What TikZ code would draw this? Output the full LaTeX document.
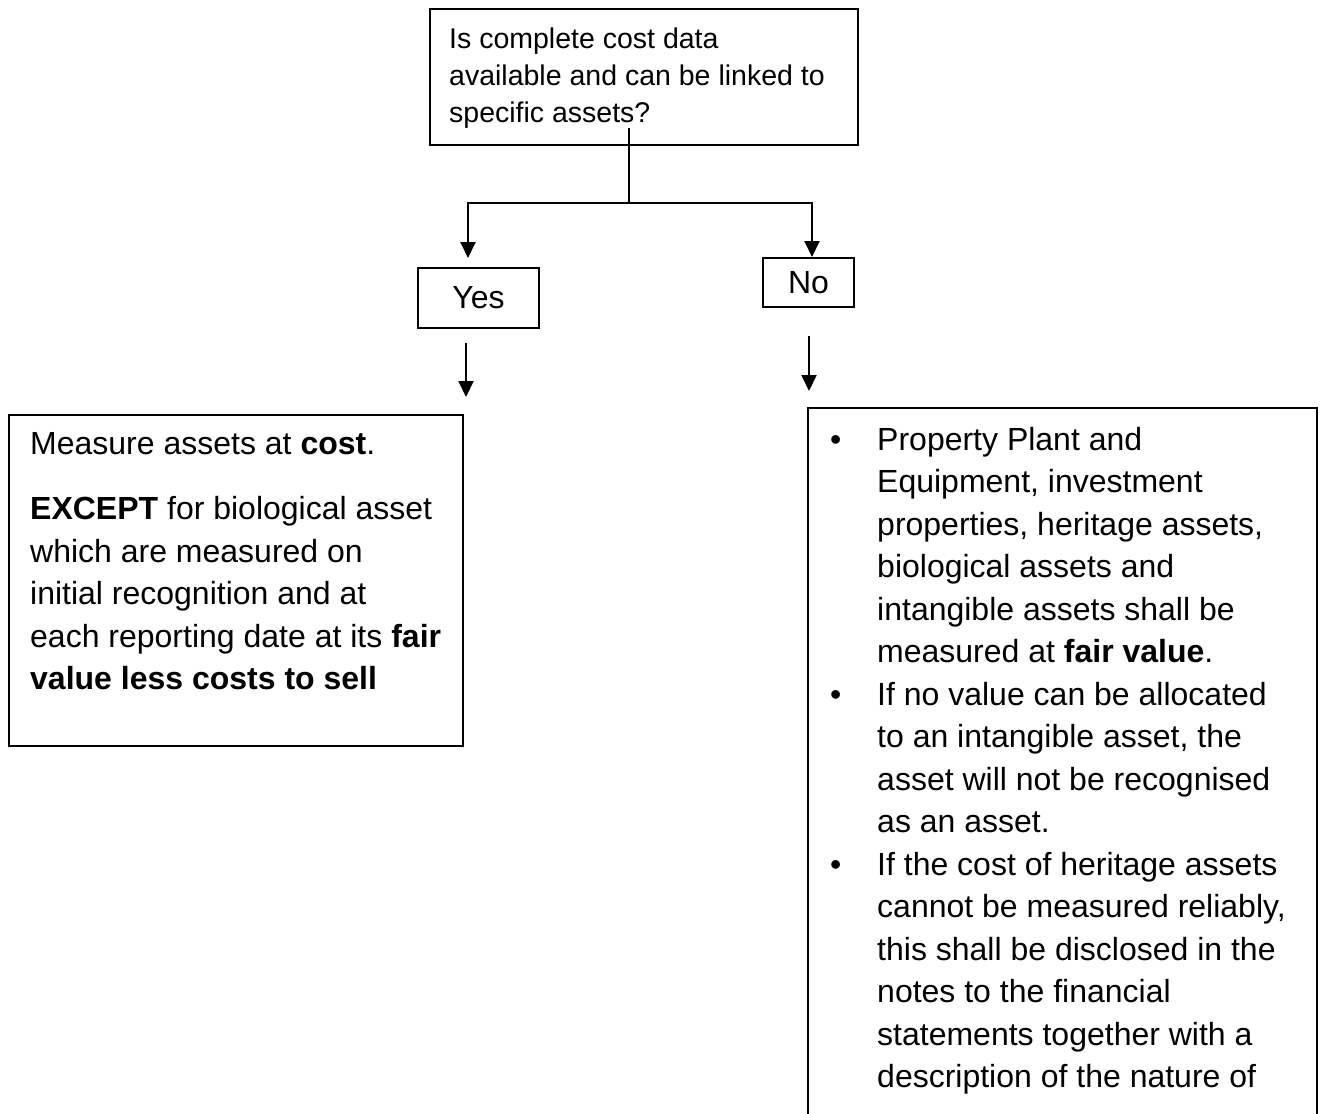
\documentclass[tikz,border=0pt]{standalone}
\usepackage{fontspec}
\setmainfont{Liberation Sans}
\usetikzlibrary{arrows.meta}
\begin{document}
\begin{tikzpicture}[x=1pt,y=-1pt,
  box/.style={draw,line width=2pt,inner sep=0pt,anchor=north west},
  txt/.style={inner sep=0pt,anchor=north west,align=left,font=\fontsize{32}{42.5}\selectfont},
  conn/.style={line width=2pt},
  arr/.style={line width=2pt,-{Triangle[width=15pt,length=16pt]}},
  lbl/.style={draw,line width=2pt,inner sep=0pt,font=\fontsize{32}{38}\selectfont}]
\useasboundingbox (0,0) rectangle (1324,1113);
\clip (0,0) rectangle (1324,1113);
% question box
\node[box,minimum width=428pt,minimum height=136pt] (q) at (429,8) {};
\node[txt,font=\fontsize{28.5}{37}\selectfont] (qt) at (449,27.6)
  {Is complete cost data\\available and can be linked to\\specific assets?};
% yes / no
\node[lbl,minimum width=121pt,minimum height=60pt] (yes) at (478.5,298) {Yes};
\node[lbl,minimum width=91pt,minimum height=49pt] (no) at (808.5,282.5) {No};
% connectors
\coordinate (qs) at (629,128);
\coordinate (split) at (629,203);
\coordinate (yl) at (468,203);
\coordinate (yt) at (468,258);
\coordinate (nr) at (812,203);
\draw[conn] (qs) -- (split);
\draw[arr] (split) -- (yl) -- (yt);
\draw[arr] (split) -- (nr) -- (nr |- no.north);
\coordinate (ya) at (466,343);
\coordinate (yb) at (466,397);
\coordinate (na) at (809,336);
\coordinate (nb) at (809,391);
\draw[arr] (ya) -- (yb);
\draw[arr] (na) -- (nb);
% cost box
\node[box,minimum width=454pt,minimum height=331pt] (cost) at (8,414) {};
\node[txt] (costt) at (30,432)
  {Measure assets at \textbf{cost}.\\[23pt]
   \textbf{EXCEPT} for biological asset\\
   which are measured on\\
   initial recognition and at\\
   each reporting date at its \textbf{fair}\\
   \textbf{value less costs to sell}};
% fair value box
\node[box,minimum width=509pt,minimum height=743pt] (fv) at (807,407) {};
\node[txt] (fvt) at (877,427)
  {\llap{\textbullet\hspace{36pt}}Property Plant and\\
   Equipment, investment\\
   properties, heritage assets,\\
   biological assets and\\
   intangible assets shall be\\
   measured at \textbf{fair value}.\\
   \llap{\textbullet\hspace{36pt}}If no value can be allocated\\
   to an intangible asset, the\\
   asset will not be recognised\\
   as an asset.\\
   \llap{\textbullet\hspace{36pt}}If the cost of heritage assets\\
   cannot be measured reliably,\\
   this shall be disclosed in the\\
   notes to the financial\\
   statements together with a\\
   description of the nature of};
\end{tikzpicture}
\end{document}
